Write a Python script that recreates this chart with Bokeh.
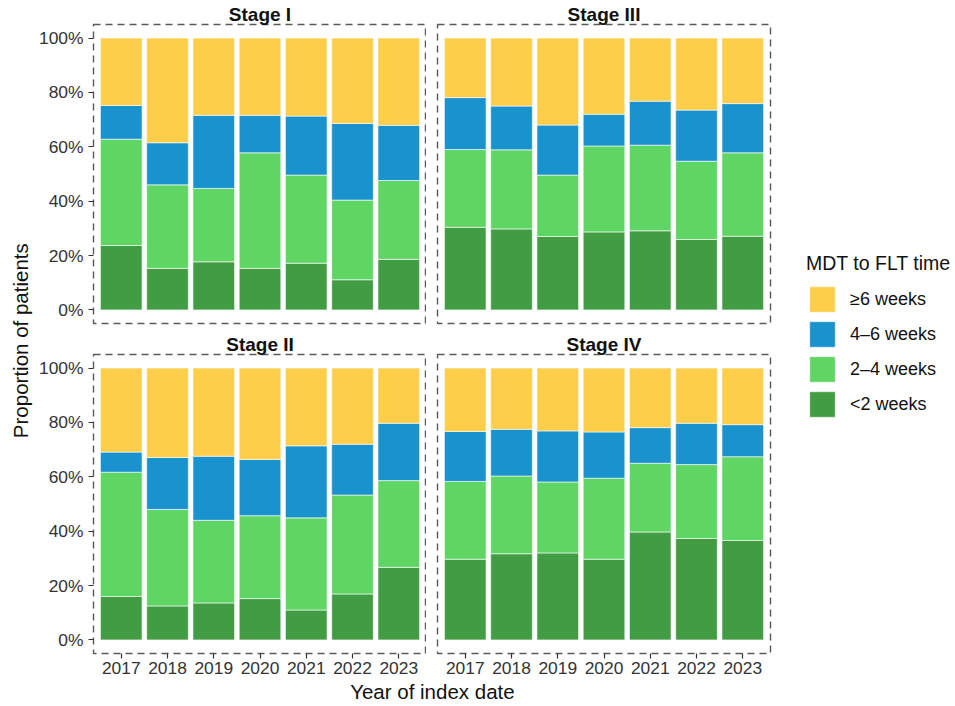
from bokeh.plotting import figure
from bokeh.layouts import row, column
from bokeh.models import (FactorRange, Range1d, FixedTicker, NumeralTickFormatter,
                          Legend, LegendItem, Label, ColumnDataSource)
from bokeh.embed import file_html
from bokeh.resources import INLINE

FONT = "Liberation Sans"

# ---------------- data (percent of patients) ----------------
years = ["2017", "2018", "2019", "2020", "2021", "2022", "2023"]
categories = ["<2 weeks", "2–4 weeks", "4–6 weeks", "≥6 weeks"]
colors = ["#419C44", "#5FD564", "#1A92CE", "#FECE4A"]
y_ticks = [0, 0.2, 0.4, 0.6, 0.8, 1.0]
legend_title = "MDT to FLT time"

stage1_lt2 = [23.7, 15.3, 17.7, 15.3, 17.2, 11.1, 18.6]
stage1_2to4 = [39.1, 30.7, 27.0, 42.5, 32.4, 29.3, 29.0]
stage1_4to6 = [12.4, 15.5, 26.9, 13.8, 21.7, 28.2, 20.3]
stage1_ge6 = [24.8, 38.5, 28.4, 28.4, 28.7, 31.4, 32.1]

stage2_lt2 = [16.0, 12.5, 13.6, 15.2, 11.0, 16.9, 26.7]
stage2_2to4 = [45.7, 35.5, 30.4, 30.5, 33.9, 36.4, 31.9]
stage2_4to6 = [7.4, 19.1, 23.6, 20.7, 26.5, 18.7, 21.1]
stage2_ge6 = [30.9, 32.9, 32.4, 33.6, 28.6, 28.0, 20.3]

stage3_lt2 = [30.4, 29.8, 27.0, 28.7, 29.1, 25.9, 27.1]
stage3_2to4 = [28.6, 29.1, 22.6, 31.6, 31.5, 28.8, 30.7]
stage3_4to6 = [19.1, 16.1, 18.4, 11.7, 16.2, 18.8, 18.1]
stage3_ge6 = [21.9, 25.0, 32.0, 28.0, 23.2, 26.5, 24.1]

stage4_lt2 = [29.7, 31.7, 32.0, 29.7, 39.7, 37.3, 36.6]
stage4_2to4 = [28.6, 28.6, 26.1, 29.8, 25.3, 27.2, 30.8]
stage4_4to6 = [18.4, 17.2, 18.8, 17.0, 13.1, 15.2, 11.8]
stage4_ge6 = [23.3, 22.5, 23.1, 23.5, 21.9, 20.3, 20.8]


def make_source(series):
    data = {"year": years}
    for cat, vals in zip(categories, series):
        data[cat] = [v / 100.0 for v in vals]
    return ColumnDataSource(data)


def make_panel(title, series, show_x, show_y, top, bottom, left, right):
    src = make_source(series)
    p = figure(x_range=FactorRange(factors=years, range_padding=0.1,
                                   range_padding_units="absolute"),
               y_range=Range1d(-0.05, 1.05),
               frame_width=333, frame_height=299,
               min_border_top=top, min_border_bottom=bottom,
               min_border_left=left, min_border_right=right,
               x_axis_location="below" if show_x else None,
               y_axis_location="left" if show_y else None,
               title=title, output_backend="svg", toolbar_location=None)
    p.title.align = "center"
    p.title.text_font = FONT
    p.title.text_font_size = "19px"
    p.title.text_font_style = "bold"
    p.title.text_color = "#111111"
    p.title.standoff = 0
    p.title.offset = 0
    p.vbar_stack(stackers=categories, x="year", width=0.9, source=src,
                 fill_color=colors, line_color="white", line_alpha=0.6,
                 line_width=1)
    p.xgrid.visible = False
    p.ygrid.visible = False
    p.outline_line_color = "#5a5a5a"
    p.outline_line_dash = "7 5"
    p.outline_line_width = 1.4
    p.background_fill_color = "white"
    p.border_fill_color = "white"
    for ax in p.axis:
        ax.axis_line_color = None
        ax.major_tick_line_color = "#333333"
        ax.major_tick_line_width = 1.2
        ax.major_tick_out = 5
        ax.major_tick_in = 0
        ax.minor_tick_out = 0
        ax.minor_tick_in = 0
        ax.major_label_text_font = FONT
        ax.major_label_text_font_size = "17.4px"
        ax.major_label_text_color = "#333333"
        ax.major_label_standoff = 5
    if show_y:
        p.yaxis.ticker = FixedTicker(ticks=y_ticks)
        p.yaxis.formatter = NumeralTickFormatter(format="0%")
    if show_x:
        p.xaxis.major_label_standoff = 3
    return p, src


TL, src1 = make_panel("Stage I", [stage1_lt2, stage1_2to4, stage1_4to6, stage1_ge6],
                      False, True, 24, 8, 58, 0)
TR, src3 = make_panel("Stage III", [stage3_lt2, stage3_2to4, stage3_4to6, stage3_ge6],
                      False, False, 24, 8, 11, 5)
BL, src2 = make_panel("Stage II", [stage2_lt2, stage2_2to4, stage2_4to6, stage2_ge6],
                      True, True, 21, 27, 58, 0)
BR, src4 = make_panel("Stage IV", [stage4_lt2, stage4_2to4, stage4_4to6, stage4_ge6],
                      True, False, 21, 27, 11, 5)


def blank(w, h, x_range=None, y_range=None):
    f = figure(frame_width=w, frame_height=h,
               x_range=x_range if x_range is not None else Range1d(0, 1),
               y_range=y_range if y_range is not None else Range1d(0, 1),
               min_border=0, x_axis_location=None, y_axis_location=None,
               output_backend="svg", toolbar_location=None)
    f.outline_line_color = None
    f.xgrid.visible = False
    f.ygrid.visible = False
    return f


ylab = blank(35, 700)
ylab.add_layout(Label(x=0.57, y=0.514, text="Proportion of patients", angle=90,
                      angle_units="deg", text_align="center", text_baseline="middle",
                      text_font=FONT, text_font_size="20.5px", text_color="#111111"))

xlab = blank(735, 22)
xlab.add_layout(Label(x=0.54, y=0.5, text="Year of index date",
                      text_align="center", text_baseline="middle",
                      text_font=FONT, text_font_size="20.5px", text_color="#111111"))

# legend panel: key renderers use the same stacked data, kept below the visible window
leg = blank(180, 700, x_range=FactorRange(factors=years), y_range=Range1d(2, 3))
key_renderers = leg.vbar_stack(stackers=categories, x="year", width=0.9, source=src1,
                               fill_color=colors, line_color="white", line_alpha=0.6,
                               line_width=1)
items = [LegendItem(label=cat, renderers=[r])
         for cat, r in reversed(list(zip(categories, key_renderers)))]
legend = Legend(items=items, location=(31, 280), title=legend_title,
                title_text_font=FONT, title_text_font_size="19.5px",
                title_text_font_style="normal", title_text_color="#111111",
                title_standoff=8,
                label_text_font=FONT, label_text_font_size="18px",
                label_text_color="#111111", label_standoff=12,
                glyph_width=32, glyph_height=32, spacing=3,
                padding=0, margin=0, border_line_color=None,
                background_fill_alpha=0)
leg.add_layout(legend)

layout = row(ylab, column(row(TL, TR), row(BL, BR), xlab), leg)

open("out.html", "w").write(file_html(layout, INLINE, title="chart"))
